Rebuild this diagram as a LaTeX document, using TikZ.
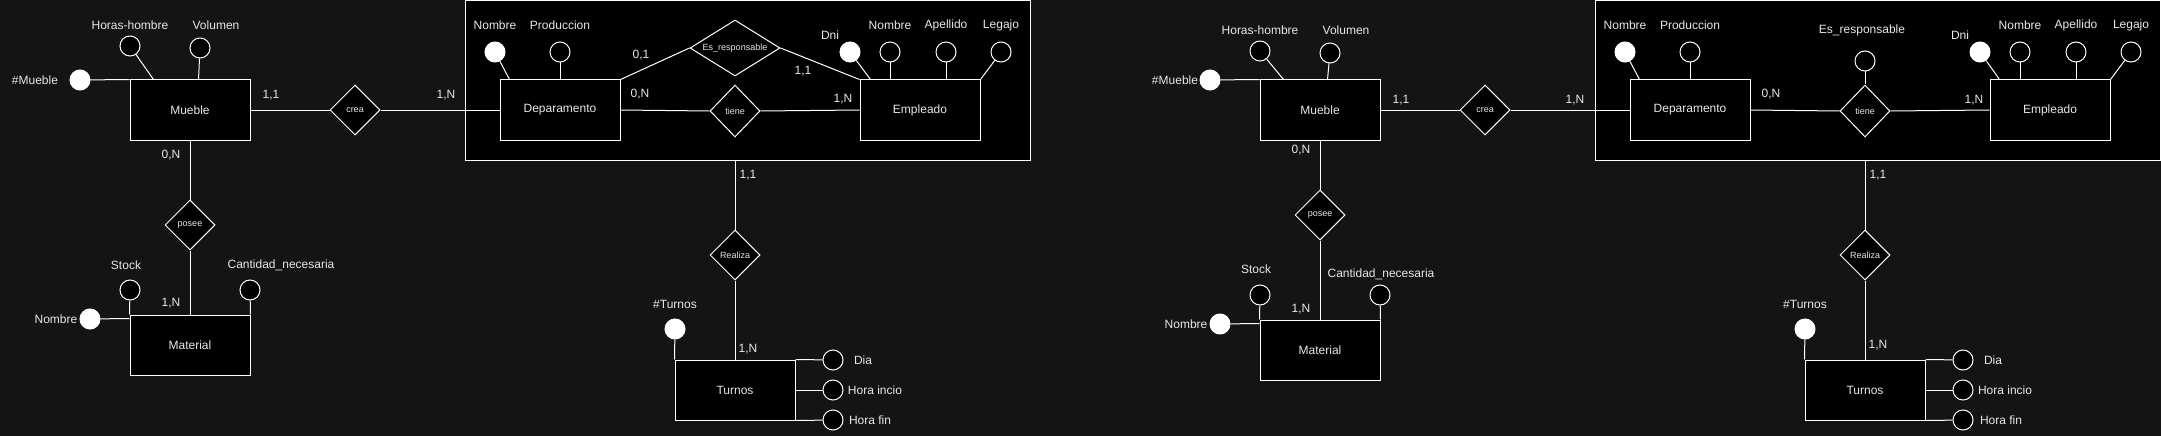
\documentclass[tikz,border=0pt]{standalone}
\usepackage{fontspec}
\setmainfont{Liberation Sans}
\usetikzlibrary{shapes.geometric,calc}
\definecolor{bg}{HTML}{141414}
\definecolor{txt}{HTML}{E8E8E8}
\begin{document}
\begin{tikzpicture}[x=1pt,y=-1pt,
  every node/.style={text=txt},
  lbl/.style={font=\fontsize{12}{14}\selectfont, inner sep=0pt},
  ent/.style={draw=white, fill=black, minimum width=120pt, minimum height=60pt, line width=1pt, inner sep=0pt, font=\fontsize{12}{14}\selectfont},
  rel/.style={diamond, draw=white, fill=black, line width=1pt, inner sep=0pt, minimum width=50pt, minimum height=50pt, font=\fontsize{9}{10}\selectfont},
  wide/.style={shape aspect=1.6, minimum width=90pt, minimum height=56pt},
  att/.style={circle, draw=white, fill=black, line width=1pt, minimum size=20pt, inner sep=0pt},
  key/.style={circle, draw=white, fill=white, line width=1pt, minimum size=20pt, inner sep=0pt},
  grp/.style={draw=white, fill=black, line width=1pt, minimum width=565pt, minimum height=159pt, inner sep=0pt},
  ln/.style={draw=white, line width=1pt}]

\fill[bg] (0,0) rectangle (2161,436);
\useasboundingbox (0,0) rectangle (2161,436);

% ================= LEFT DIAGRAM =================
\node[grp] (LBox) at (747.5,80.5) {};
\node[ent] (LMueble) at (190,110) {Mueble};
\node[ent] (LMat) at (190,345) {Material};
\node[ent] (LDep) at (560,110) {Deparamento};
\node[ent] (LEmp) at (920,110) {Empleado};
\node[ent] (LTur) at (735,390) {Turnos};
\node[rel] (Lcrea) at (355,110) {crea};
\node[rel] (Lposee) at (190,225) {posee};
\node[rel,wide] (LEsr) at (735,48) {Es\_responsable};
\node[rel,minimum height=52pt] (Ltiene) at (735,111) {tiene};
\node[rel] (LReal) at (735,255) {Realiza};

% attributes
\node[att] (LaHH) at (130,46) {};
\node[lbl] (LtHH) at (130,25) {Horas-hombre};
\node[att] (LaVol) at (200,48) {};
\node[lbl] (LtVol) at (216,25) {Volumen};
\node[key] (LaMue) at (80,80) {};
\node[lbl] (LtMue) at (35,80) {\#Mueble};
\node[att] (LaStock) at (130,290) {};
\node[lbl] (LtStock) at (126,265) {Stock};
\node[att] (LaCant) at (250,290) {};
\node[lbl] (LtCant) at (281,265) {Cantidad\_necesaria};
\node[key] (LaNom) at (90,319) {};
\node[lbl] (LtNom) at (56,319) {Nombre};
\node[key] (LaDNom) at (495,52) {};
\node[lbl] (LtDNom) at (495,25) {Nombre};
\node[att] (LaProd) at (560,52) {};
\node[lbl] (LtProd) at (560,25) {Produccion};
\node[key] (LaDni) at (850,52) {};
\node[lbl] (LtDni) at (830,35) {Dni};
\node[att] (LaENom) at (890,52) {};
\node[lbl] (LtENom) at (890,25) {Nombre};
\node[att] (LaApe) at (946,52) {};
\node[lbl] (LtApe) at (946,25) {Apellido};
\node[att] (LaLeg) at (1001,52) {};
\node[lbl] (LtLeg) at (1001,25) {Legajo};
\node[key] (LaTur) at (675,329) {};
\node[lbl] (LtTur) at (675,304) {\#Turnos};
\node[att] (LaDia) at (833,360) {};
\node[lbl] (LtDia) at (863,360) {Dia};
\node[att] (LaHI) at (833,390) {};
\node[lbl] (LtHI) at (875,390) {Hora incio};
\node[att] (LaHF) at (833,420) {};
\node[lbl] (LtHF) at (870,420) {Hora fin};

% connectors
\draw[ln] (LMueble.east) -- (Lcrea.west);
\draw[ln] (Lcrea.east) -- (LDep.west);
\draw[ln] (LMueble.south) -- (Lposee.north);
\draw[ln] (Lposee.south) -- (LMat.north);
\draw[ln] (LDep.north east) -- (LEsr.west);
\draw[ln] (LEsr.east) -- (LEmp.north west);
\draw[ln] (LDep.east) -- (Ltiene.west);
\draw[ln] (Ltiene.east) -- (LEmp.west);
\draw[ln] (LReal |- LBox.south) -- (LReal.north);
\draw[ln] (LReal.south) -- (LTur.north);
\draw[ln] (LaHH) -- ($(LMueble.north west)+(24,0)$);
\draw[ln] (LaVol) -- ($(LMueble.north west)+(69,0)$);
\draw[ln] (LaMue) -- (LMueble.north west);
\draw[ln] (LaStock) -- (LMat.north west);
\draw[ln] (LaCant) -- (LMat.north east);
\draw[ln] (LaNom) -- ($(LMat.north west)+(0,4)$);
\draw[ln] (LaDNom) -- ($(LDep.north west)+(10,0)$);
\draw[ln] (LaProd) -- (LaProd |- LDep.north);
\draw[ln] (LaDni) -- ($(LEmp.north west)+(11,0)$);
\draw[ln] (LaENom) -- (LaENom |- LEmp.north);
\draw[ln] (LaApe) -- (LaApe |- LEmp.north);
\draw[ln] (LaLeg) -- (LEmp.north east);
\draw[ln] (LaTur) -- (LTur.north west);
\draw[ln] (LTur.north east) -- (LaDia);
\draw[ln] (LTur.east) -- (LaHI);
\draw[ln] (LTur.south east) -- (LaHF);

% cardinalities
\node[lbl] (Lc1) at (271,95) {1,1};
\node[lbl] (Lc2) at (446,95) {1,N};
\node[lbl] (Lc3) at (171,155) {0,N};
\node[lbl] (Lc4) at (171,303) {1,N};
\node[lbl] (Lc5) at (641,55) {0,1};
\node[lbl] (Lc6) at (803,71) {1,1};
\node[lbl] (Lc7) at (640,94) {0,N};
\node[lbl] (Lc8) at (843,99) {1,N};
\node[lbl] (Lc9) at (748,175) {1,1};
\node[lbl] (Lc10) at (748,349) {1,N};

% ================= RIGHT DIAGRAM =================
\node[grp] (RBox) at (1877.5,80.5) {};
\node[ent] (RMueble) at (1320,110) {Mueble};
\node[ent] (RMat) at (1320,350) {Material};
\node[ent] (RDep) at (1690,110) {Deparamento};
\node[ent] (REmp) at (2050,110) {Empleado};
\node[ent] (RTur) at (1865,390) {Turnos};
\node[rel] (Rcrea) at (1485,110) {crea};
\node[rel] (Rposee) at (1320,215) {posee};
\node[rel,minimum height=52pt] (Rtiene) at (1865,111) {tiene};
\node[rel] (RReal) at (1865,255) {Realiza};

\node[att] (RaHH) at (1260,51) {};
\node[lbl] (RtHH) at (1260,30) {Horas-hombre};
\node[att] (RaVol) at (1330,53) {};
\node[lbl] (RtVol) at (1346,30) {Volumen};
\node[key] (RaMue) at (1210,80) {};
\node[lbl] (RtMue) at (1175,80) {\#Mueble};
\node[att] (RaStock) at (1260,295) {};
\node[lbl] (RtStock) at (1256,269) {Stock};
\node[att] (RaCant) at (1380,295) {};
\node[lbl] (RtCant) at (1381,274) {Cantidad\_necesaria};
\node[key] (RaNom) at (1220,324) {};
\node[lbl] (RtNom) at (1186,324) {Nombre};
\node[key] (RaDNom) at (1625,52) {};
\node[lbl] (RtDNom) at (1625,25) {Nombre};
\node[att] (RaProd) at (1690,52) {};
\node[lbl] (RtProd) at (1690,25) {Produccion};
\node[att] (RaEsr) at (1865,61) {};
\node[lbl] (RtEsr) at (1862,30) {Es\_responsable};
\node[key] (RaDni) at (1980,52) {};
\node[lbl] (RtDni) at (1960,35) {Dni};
\node[att] (RaENom) at (2020,52) {};
\node[lbl] (RtENom) at (2020,25) {Nombre};
\node[att] (RaApe) at (2076,52) {};
\node[lbl] (RtApe) at (2076,25) {Apellido};
\node[att] (RaLeg) at (2131,52) {};
\node[lbl] (RtLeg) at (2131,25) {Legajo};
\node[key] (RaTur) at (1805,329) {};
\node[lbl] (RtTur) at (1805,304) {\#Turnos};
\node[att] (RaDia) at (1963,360) {};
\node[lbl] (RtDia) at (1993,360) {Dia};
\node[att] (RaHI) at (1963,390) {};
\node[lbl] (RtHI) at (2005,390) {Hora incio};
\node[att] (RaHF) at (1963,420) {};
\node[lbl] (RtHF) at (2001,420) {Hora fin};

\draw[ln] (RMueble.east) -- (Rcrea.west);
\draw[ln] (Rcrea.east) -- (RDep.west);
\draw[ln] (RMueble.south) -- (Rposee.north);
\draw[ln] (Rposee.south) -- (RMat.north);
\draw[ln] (RDep.east) -- (Rtiene.west);
\draw[ln] (Rtiene.east) -- (REmp.west);
\draw[ln] (RaEsr) -- (Rtiene.north);
\draw[ln] (RReal |- RBox.south) -- (RReal.north);
\draw[ln] (RReal.south) -- (RTur.north);
\draw[ln] (RaHH) -- ($(RMueble.north west)+(24,0)$);
\draw[ln] (RaVol) -- ($(RMueble.north west)+(68,0)$);
\draw[ln] (RaMue) -- (RMueble.north west);
\draw[ln] (RaStock) -- (RMat.north west);
\draw[ln] (RaCant) -- (RMat.north east);
\draw[ln] (RaNom) -- ($(RMat.north west)+(0,4)$);
\draw[ln] (RaDNom) -- ($(RDep.north west)+(10,0)$);
\draw[ln] (RaProd) -- (RaProd |- RDep.north);
\draw[ln] (RaDni) -- ($(REmp.north west)+(10,0)$);
\draw[ln] (RaENom) -- (RaENom |- REmp.north);
\draw[ln] (RaApe) -- (RaApe |- REmp.north);
\draw[ln] (RaLeg) -- (REmp.north east);
\draw[ln] (RaTur) -- (RTur.north west);
\draw[ln] (RTur.north east) -- (RaDia);
\draw[ln] (RTur.east) -- (RaHI);
\draw[ln] (RTur.south east) -- (RaHF);

\node[lbl] (Rc1) at (1401,100) {1,1};
\node[lbl] (Rc2) at (1575,100) {1,N};
\node[lbl] (Rc3) at (1301,150) {0,N};
\node[lbl] (Rc4) at (1301,309) {1,N};
\node[lbl] (Rc7) at (1771,94) {0,N};
\node[lbl] (Rc8) at (1974,100) {1,N};
\node[lbl] (Rc9) at (1878,175) {1,1};
\node[lbl] (Rc10) at (1878,345) {1,N};
\end{tikzpicture}
\end{document}
